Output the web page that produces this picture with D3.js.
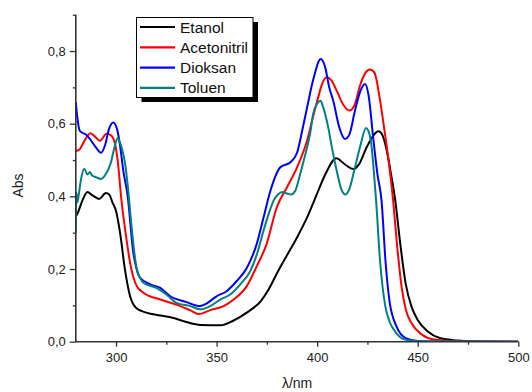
<!DOCTYPE html>
<html><head><meta charset="utf-8">
<script src="https://cdn.jsdelivr.net/npm/d3@7"></script>
<style>
html,body{margin:0;padding:0;background:#fff;}
svg{display:block;font-family:"Liberation Sans",Arial,sans-serif;}
</style></head>
<body><svg id="c" width="532" height="392"></svg>
<script>
// ---- data (wavelength nm, absorbance) ----
const seriesNames = ["Etanol", "Acetonitril", "Dioksan", "Toluen"];
const seriesColors = ["#000000", "#ff0000", "#0000ff", "#008080"];

const etanol = [[280,0.345],[281,0.355],[283.3,0.389],[285.8,0.412],[288.3,0.403],[291.6,0.393],[295,0.409],[296.6,0.405],[298.3,0.382],[300,0.36],[302,0.30],[304.4,0.20],[307,0.125],[310,0.093],[315,0.080],[322,0.072],[328,0.066],[335,0.054],[342,0.046],[352,0.045],[358,0.057],[365,0.080],[372,0.112],[376,0.145],[380,0.188],[385,0.238],[390,0.287],[395,0.342],[400,0.408],[404,0.46],[409.5,0.505],[414,0.487],[418,0.475],[421,0.49],[424.6,0.535],[428,0.568],[430.5,0.579],[432.5,0.568],[434.6,0.526],[436.7,0.462],[438.8,0.39],[441.3,0.27],[444,0.16],[447,0.095],[450,0.06],[455,0.028],[461,0.01],[470,0.003],[480,0.0005],[500,0]];

const acetonitril = [[280,0.525],[282,0.53],[284,0.55],[287.3,0.574],[290,0.562],[292,0.553],[295.3,0.572],[297.5,0.568],[299.5,0.545],[301,0.49],[302.5,0.40],[305,0.29],[307,0.217],[310.3,0.153],[313.6,0.135],[322,0.116],[332,0.098],[337,0.086],[341,0.076],[346.8,0.087],[353.5,0.098],[358.5,0.116],[365,0.153],[370,0.208],[374.8,0.268],[380,0.371],[385,0.425],[390,0.48],[395,0.554],[398,0.62],[400.5,0.672],[402.5,0.71],[404.7,0.728],[407,0.72],[409.7,0.691],[413,0.652],[416,0.636],[418.5,0.65],[421.3,0.705],[424,0.74],[426.3,0.749],[428.5,0.74],[431.3,0.663],[433.5,0.58],[435.5,0.499],[437.6,0.398],[440,0.25],[442,0.15],[444,0.09],[447,0.05],[452,0.02],[458,0.006],[470,0.001],[500,0]];

const dioksan = [[280,0.66],[280.7,0.62],[282,0.58],[285.5,0.568],[287,0.558],[290,0.535],[292.5,0.52],[294.5,0.54],[296.5,0.585],[298.6,0.603],[300.5,0.585],[302,0.54],[303.6,0.471],[305.8,0.40],[308.6,0.244],[310.3,0.199],[312,0.176],[317,0.158],[322,0.148],[327,0.125],[335,0.109],[341.8,0.098],[345,0.105],[350,0.125],[355,0.139],[360,0.167],[365,0.203],[370,0.27],[373.4,0.343],[376.8,0.416],[381.7,0.48],[386.7,0.494],[390,0.52],[392.6,0.582],[395,0.645],[398,0.72],[401.8,0.778],[404,0.755],[406,0.70],[408,0.663],[411,0.59],[413.8,0.558],[416,0.57],[418.8,0.636],[421.5,0.69],[423.8,0.709],[425.5,0.68],[428,0.554],[430,0.46],[432,0.389],[434,0.22],[436,0.11],[439.6,0.04],[444,0.01],[450,0.002],[460,0],[500,0]];

const toluen = [[280,0.30],[280.3,0.41],[280.8,0.384],[281.6,0.41],[282.5,0.444],[284.2,0.476],[285.8,0.46],[287,0.467],[288,0.458],[290,0.453],[292.5,0.448],[295,0.462],[297.5,0.494],[299,0.53],[300.8,0.56],[302,0.548],[303.6,0.517],[304.5,0.49],[306,0.42],[307.5,0.33],[309,0.25],[310.3,0.20],[312,0.175],[313.6,0.162],[320,0.148],[325,0.13],[330,0.107],[337,0.098],[341.8,0.089],[346.8,0.098],[351.8,0.116],[356.8,0.13],[361.8,0.158],[366.8,0.195],[370,0.24],[373.4,0.307],[376.4,0.36],[378.4,0.389],[380.5,0.405],[382.6,0.412],[385,0.408],[387,0.405],[389.2,0.416],[391,0.45],[393.4,0.50],[396.7,0.58],[398,0.627],[400,0.655],[401.7,0.663],[403,0.645],[405.5,0.59],[407.5,0.53],[409.7,0.471],[412,0.42],[414,0.405],[416,0.42],[418.8,0.48],[421.5,0.54],[424.3,0.588],[425.5,0.58],[427.1,0.535],[428.3,0.46],[429.3,0.389],[431.3,0.22],[433.8,0.10],[436,0.055],[438,0.034],[443,0.007],[450,0.001],[500,0]];

const seriesData = [etanol, acetonitril, dioksan, toluen];

const xMajorTicks = [300, 350, 400, 450, 500];
const xMinorTicks = [325, 375, 425, 475];
const yMajorTicks = [0, 0.2, 0.4, 0.6, 0.8];
const yMinorTicks = [0.1, 0.3, 0.5, 0.7, 0.9];
const xTitle = "λ/nm";
const yTitle = "Abs";

// ---- drawing ----
const svg = d3.select("#c");
const x = d3.scaleLinear().domain([280, 500]).range([75.8, 518.3]);
const y = d3.scaleLinear().domain([0, 0.9]).range([341.7, 14.7]);
const axisColor = "#333";
const fmt = d => d3.format(".1f")(d).replace(".", ",");

svg.append("defs").append("clipPath").attr("id","clip")
  .append("rect").attr("x", x(280)).attr("y", 0).attr("width", x(500)-x(280)).attr("height", y(0));

const line = d3.line().x(d => x(d[0])).y(d => y(d[1])).curve(d3.curveMonotoneX);
const g = svg.append("g").attr("clip-path","url(#clip)");
seriesData.forEach((s, i) => {
  g.append("path").datum(s).attr("d", line)
    .attr("fill","none").attr("stroke", seriesColors[i]).attr("stroke-width", 2)
    .attr("stroke-linejoin","round");
});

// axes
const xAxis = svg.append("g").attr("transform", `translate(0,${y(0)})`)
  .call(d3.axisBottom(x).tickValues(xMajorTicks).tickSize(5).tickPadding(6).tickFormat(d3.format("d")));
const xMinor = svg.append("g").attr("transform", `translate(0,${y(0)})`)
  .call(d3.axisBottom(x).tickValues(xMinorTicks).tickSize(3).tickFormat(""));
const yAxis = svg.append("g").attr("transform", `translate(${x(280)},0)`)
  .call(d3.axisLeft(y).tickValues(yMajorTicks).tickSize(6).tickPadding(4).tickFormat(fmt));
const yMinor = svg.append("g").attr("transform", `translate(${x(280)},0)`)
  .call(d3.axisLeft(y).tickValues(yMinorTicks).tickSize(3).tickFormat(""));

[xAxis, xMinor, yAxis, yMinor].forEach(a => {
  a.select(".domain").attr("stroke", axisColor).attr("stroke-width", 1.6);
  a.selectAll(".tick line").attr("stroke", axisColor).attr("stroke-width", 1.3);
  a.selectAll("text").attr("font-size", 13).attr("fill", "#222")
    .attr("font-family", '"Liberation Sans", Arial, sans-serif');
});
xMinor.select(".domain").remove();
yMinor.select(".domain").remove();
xAxis.select(".domain").attr("d", `M${x(280)},0H${x(500)}`);
yAxis.select(".domain").attr("d", `M0,${y(0)}V${y(0.9)}`);

// axis titles
svg.append("text").attr("x", x(390)).attr("y", 388).attr("text-anchor","middle")
  .attr("font-size", 14).attr("fill","#222").text(xTitle);
svg.append("text").attr("transform", `translate(23,${y(0.43)}) rotate(-90)`)
  .attr("text-anchor","middle").attr("font-size", 14).attr("fill","#222").text(yTitle);

// legend
const lx = 136.5, ly = 17.5, lw = 116.5, lh = 80;
svg.append("rect").attr("x", lx+5).attr("y", ly+4.5).attr("width", lw).attr("height", lh).attr("fill","#000");
svg.append("rect").attr("x", lx).attr("y", ly).attr("width", lw).attr("height", lh)
  .attr("fill","#fff").attr("stroke","#000").attr("stroke-width", 1);
seriesNames.forEach((n, i) => {
  const yy = 27 + i * 20.3;
  svg.append("line").attr("x1", 140).attr("x2", 175).attr("y1", yy).attr("y2", yy)
    .attr("stroke", seriesColors[i]).attr("stroke-width", 2.2);
  svg.append("text").attr("x", 180).attr("y", yy + 5.5).attr("font-size", 15.5).attr("fill","#111").text(n);
});
</script></body></html>
